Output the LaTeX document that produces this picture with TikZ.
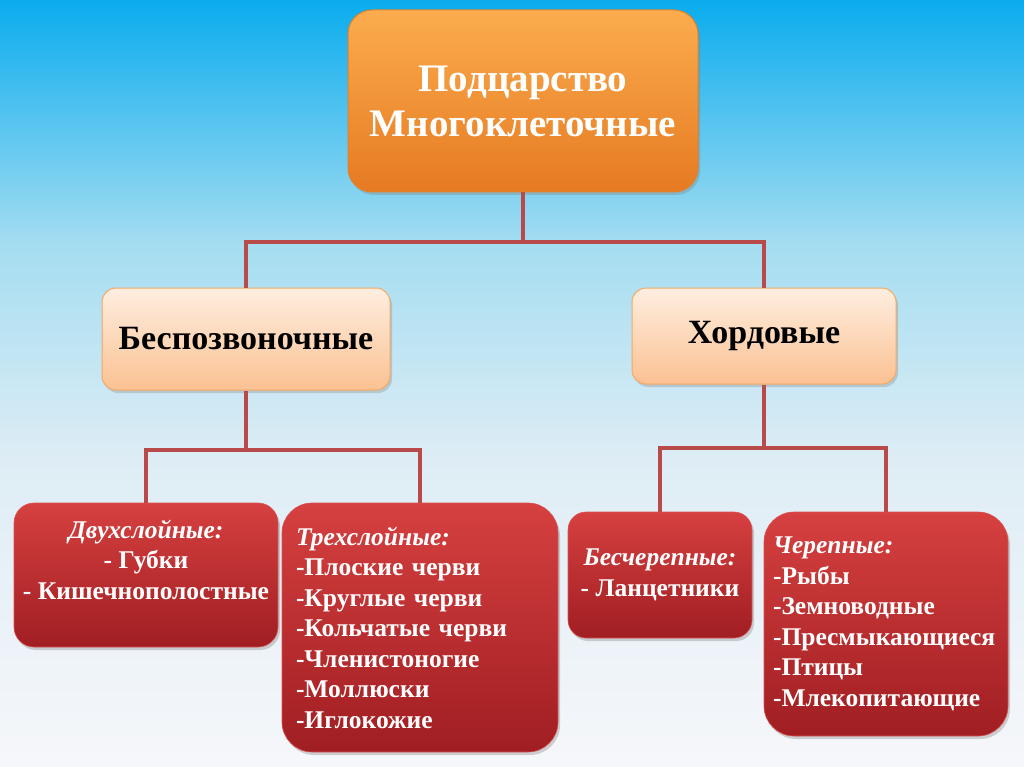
\documentclass[tikz,border=0pt]{standalone}
\usepackage{fontspec}
\setmainfont{Liberation Serif}
\usetikzlibrary{shadows}

\definecolor{bgtop}{RGB}{10,172,238}
\definecolor{bgmid}{RGB}{165,221,241}
\definecolor{bglow}{RGB}{222,237,245}
\definecolor{bgbot}{RGB}{246,247,250}
\definecolor{orangetop}{RGB}{251,172,78}
\definecolor{orangebot}{RGB}{230,122,34}
\definecolor{orangeline}{RGB}{226,130,40}
\definecolor{peachtop}{RGB}{254,238,224}
\definecolor{peachbot}{RGB}{251,193,146}
\definecolor{peachline}{RGB}{244,168,100}
\definecolor{redtop}{RGB}{214,64,64}
\definecolor{redbot}{RGB}{160,30,34}
\definecolor{linkred}{RGB}{184,74,74}

\pgfdeclareverticalshading{bgshade}{100bp}{color(0bp)=(bgbot); color(25bp)=(bgbot); color(45bp)=(bglow); color(59bp)=(bgmid); color(75bp)=(bgtop); color(100bp)=(bgtop)}

\tikzset{
  kingdom/.style={rectangle, rounded corners=24pt, draw=orangeline, line width=1pt,
    top color=orangetop, bottom color=orangebot, text=white, align=center,
    font=\bfseries\fontsize{39}{45}\selectfont,
    drop shadow={opacity=0.35, shadow xshift=2pt, shadow yshift=-3pt}},
  phylum/.style={rectangle, rounded corners=14pt, draw=peachline, line width=1pt,
    top color=peachtop, bottom color=peachbot, text=black, align=center,
    font=\bfseries\fontsize{34}{40}\selectfont,
    drop shadow={opacity=0.3, shadow xshift=2pt, shadow yshift=-3pt}},
  group/.style={rectangle, rounded corners=20pt, draw=redtop!90!white, line width=0.6pt,
    top color=redtop, bottom color=redbot, text=white,
    font=\bfseries\fontsize{25.5}{30.5}\selectfont,
    drop shadow={opacity=0.35, shadow xshift=2pt, shadow yshift=-3pt}},
  link/.style={draw=linkred, line width=4pt}
}

\begin{document}
\begin{tikzpicture}[x=1pt,y=-1pt]
% background
\shade[shading=bgshade] (0,0) rectangle (1024,767);
\useasboundingbox (0,0) rectangle (1024,767);

% top level
\node[kingdom, minimum width=350pt, minimum height=182pt] (top) at (523,101)
  {Подцарство\\Многоклеточные};

% second level
\node[phylum, minimum width=288pt, minimum height=102pt] (inv) at (246,339) {Беспозвоночные};
\node[phylum, minimum width=264pt, minimum height=96pt] (chord) at (764,336) {Хордовые};

% third level
\node[group, align=center, minimum width=264pt, minimum height=144pt] (two) at (146,575)
  {\textit{Двухслойные:}\\- Губки\\- Кишечнополостные\\ \mbox{}};
\node[group, rounded corners=30pt, align=left, inner xsep=14pt, text width=248pt,
  minimum height=249pt] (three) at (420,627.5)
  {\textit{Трехслойные:}\\-Плоские черви\\-Круглые черви\\-Кольчатые черви\\-Членистоногие\\-Моллюски\\-Иглокожие};
\node[group, rounded corners=18pt, align=center, minimum width=184pt, minimum height=126pt] (noskull) at (660,575)
  {\textit{Бесчерепные:}\\- Ланцетники};
\node[group, rounded corners=30pt, align=left, inner xsep=9pt, text width=226pt,
  minimum height=224pt] (skull) at (886,624)
  {\textit{Черепные:}\\-Рыбы\\-Земноводные\\-Пресмыкающиеся\\-Птицы\\-Млекопитающие};

% connectors
\draw[link] (top.south) -- ++(0,49) coordinate (topfork);
\draw[link] (inv.north) |- (topfork) -| (chord.north);
\draw[link] (inv.south) -- ++(0,59) coordinate (invfork);
\draw[link] (two.north) |- (invfork) -| (three.north);
\draw[link] (chord.south) -- ++(0,63) coordinate (chordfork);
\draw[link] (noskull.north) |- (chordfork) -| (skull.north);
\end{tikzpicture}
\end{document}
